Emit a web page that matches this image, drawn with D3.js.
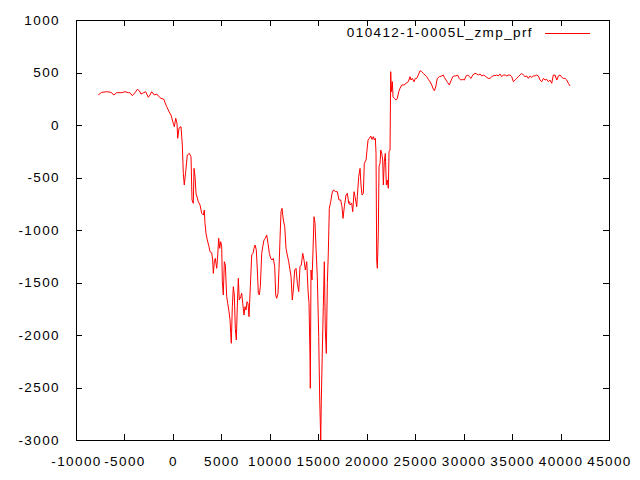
<!DOCTYPE html>
<html>
<head>
<meta charset="utf-8">
<script src="https://cdn.jsdelivr.net/npm/d3@7"></script>
<style>
  body { margin: 0; background: #fff; }
  svg text { font-family: "Liberation Sans", Arial, sans-serif; font-size: 13.5px; letter-spacing: 1.4px; fill: #000; }
</style>
</head>
<body>
<div id="chart"></div>
<script>
// series name
var seriesName = "010412-1-0005L_zmp_prf"

// position along x
var xVals = [-7700,-7350,-6830,-6390,-6080,-5800,-5280,-4940,-4600,-4430,-4190,-3910,-3670,-3470,-3290,-3010,-2810,-2540,-2360,-2190,-1920,-1670,-1510,-1230,-920,-815,-640,-400,-200,40,145,290,420,495,630,835,970,1075,1175,1320,1485,1690,1870,1970,2105,2180,2280,2385,2620,2800,2970,3140,3240,3310,3415,3550,3725,3830,4005,4105,4170,4275,4375,4520,4625,4725,4830,4935,5035,5100,5200,5305,5410,5550,5655,5790,5895,5965,6025,6130,6235,6335,6440,6545,6645,6750,6850,7000,7100,7205,7340,7440,7545,7645,7750,7855,7990,8130,8265,8370,8475,8605,8710,8815,8915,9020,9165,9270,9400,9535,9680,9815,9950,10095,10225,10360,10505,10610,10710,10845,10950,11055,11155,11260,11395,11540,11670,11805,11950,12190,12320,12425,12570,12705,12840,12985,13115,13250,13395,13530,13665,13810,13940,14045,14150,14180,14250,14355,14460,14560,14665,14770,14900,15045,15150,15255,15315,15420,15520,15625,15725,15830,15935,16035,16140,16285,16420,16555,16800,16965,17140,17315,17450,17555,17690,17865,18000,18140,18245,18275,18450,18555,18690,18795,18970,19030,19175,19310,19410,19515,19650,19750,19930,20030,20135,20270,20415,20545,20680,20785,20890,20960,21030,21095,21195,21270,21375,21445,21550,21650,21715,21815,21920,22025,22125,22230,22300,22405,22475,22540,22640,22715,22850,23025,23160,23300,23435,23610,23850,24055,24295,24470,24570,24705,24880,25015,25160,25325,25500,25675,25840,26015,26190,26355,26530,26710,26875,26975,27120,27285,27490,27740,27905,28010,28185,28360,28525,28700,28875,29040,29205,29380,29545,29700,29905,30075,30250,30425,30590,30765,30940,31175,31350,31520,31695,31870,32045,32210,32385,32550,32725,32900,33065,33240,33415,33580,33755,33930,34095,34275,34450,34615,34790,34965,35130,35305,35480,35645,35820,35995,36160,36335,36510,36675,36855,37030,37195,37370,37545,37710,37885,38060,38225,38400,38575,38740,38915,39090,39255,39435,39610,39775,39950,40125,40290,40465,40640,40805,40980]

var yVals = [286,311,317,311,286,308,308,317,308,308,279,308,340,327,295,308,317,264,286,317,286,295,276,254,244,212,175,127,95,16,-16,64,19,-127,-29,-16,-190,-460,-571,-444,-286,-270,-302,-714,-746,-413,-492,-651,-730,-762,-841,-857,-810,-937,-1032,-1095,-1159,-1207,-1217,-1286,-1413,-1302,-1270,-1365,-1238,-1079,-1175,-1111,-1159,-1492,-1619,-1302,-1333,-1635,-1698,-1778,-1857,-1984,-2079,-1730,-1540,-1619,-1937,-2048,-1730,-1460,-1667,-1635,-1603,-1698,-1810,-1730,-1762,-1683,-1698,-1826,-1540,-1238,-1222,-1174,-1143,-1190,-1381,-1603,-1619,-1540,-1222,-1159,-1095,-1079,-1048,-1127,-1222,-1270,-1286,-1270,-1349,-1619,-1651,-1603,-1365,-1079,-826,-794,-905,-968,-1174,-1238,-1302,-1444,-1667,-1571,-1381,-1365,-1508,-1587,-1349,-1333,-1222,-1286,-1381,-1302,-1571,-1698,-2238,-2508,-1381,-1476,-1190,-873,-937,-1174,-1444,-2016,-2619,-3000,-2619,-2143,-1730,-1302,-1952,-2175,-1508,-1222,-794,-730,-651,-619,-635,-635,-714,-714,-778,-889,-778,-667,-651,-746,-730,-762,-746,-826,-635,-683,-778,-683,-492,-413,-571,-667,-651,-365,-333,-238,-143,-127,-105,-137,-111,-143,-127,-270,-1286,-1365,-1032,-397,-365,-238,-270,-333,-571,-349,-270,-571,-524,-603,-254,-238,508,317,413,270,254,238,254,317,349,381,381,397,413,460,428,444,412,444,444,476,517,508,492,476,460,435,412,381,340,327,362,444,460,467,476,454,428,403,381,422,460,467,467,476,444,428,435,428,467,476,460,444,476,492,486,476,486,467,476,467,454,444,444,460,470,470,476,467,486,460,476,476,467,476,476,460,412,428,444,460,476,492,476,460,467,444,467,454,467,467,476,467,428,412,444,428,435,412,428,397,476,476,428,467,476,454,444,444,428,397,371]

var xTicks = [-10000,-5000,0,5000,10000,15000,20000,25000,30000,35000,40000,45000]
var yTicks = [-3000,-2500,-2000,-1500,-1000,-500,0,500,1000]

var width = 640, height = 480
var plot = {left: 76, right: 609, top: 20, bottom: 440}
var tickLen = 6

// plain hyphen for negatives, like the original
var fmt = function(d) { return String(d) }

var svg = d3.select("#chart").append("svg")
  .attr("width", width)
  .attr("height", height)

var x = d3.scaleLinear().domain([-10000, 45000]).range([plot.left, plot.right])
var y = d3.scaleLinear().domain([-3000, 1000]).range([plot.bottom, plot.top])

// bottom axis with labels, ticks pointing inward
var gx = svg.append("g")
  .attr("transform", "translate(0," + plot.bottom + ")")
  .call(d3.axisBottom(x).tickValues(xTicks).tickFormat(fmt)
    .tickSizeInner(-tickLen).tickSizeOuter(0).tickPadding(16))
gx.select(".domain").remove()

var gy = svg.append("g")
  .attr("transform", "translate(" + plot.left + ",0)")
  .call(d3.axisLeft(y).tickValues(yTicks).tickFormat(fmt)
    .tickSizeInner(-tickLen).tickSizeOuter(0).tickPadding(16))
gy.select(".domain").remove()

// mirrored ticks on top and right, no labels
var gt = svg.append("g")
  .attr("transform", "translate(0," + plot.top + ")")
  .call(d3.axisTop(x).tickValues(xTicks).tickFormat("").tickSizeInner(-tickLen).tickSizeOuter(0))
gt.select(".domain").remove()

var gr = svg.append("g")
  .attr("transform", "translate(" + plot.right + ",0)")
  .call(d3.axisRight(y).tickValues(yTicks).tickFormat("").tickSizeInner(-tickLen).tickSizeOuter(0))
gr.select(".domain").remove()

svg.selectAll(".tick line").attr("stroke", "#000").attr("shape-rendering", "crispEdges")
svg.selectAll(".tick text")
  .style("font-family", "'Liberation Sans', Arial, sans-serif")
  .style("font-size", "13.5px")
  .attr("fill", "#000")

// frame
svg.append("rect")
  .attr("x", plot.left + 0.5)
  .attr("y", plot.top + 0.5)
  .attr("width", plot.right - plot.left)
  .attr("height", plot.bottom - plot.top)
  .attr("fill", "none")
  .attr("stroke", "#000")
  .attr("shape-rendering", "crispEdges")

// the series
var data = xVals.map(function(d, i) { return {x: d, y: yVals[i]} })

var line = d3.line()
  .x(function(d) { return x(d.x) })
  .y(function(d) { return y(d.y) })

svg.append("path")
  .datum(data)
  .attr("fill", "none")
  .attr("stroke", "#ff0000")
  .attr("stroke-width", 1)
  .attr("d", line)

// key
svg.append("text")
  .attr("x", 533)
  .attr("y", 37)
  .attr("text-anchor", "end")
  .text(seriesName)

svg.append("line")
  .attr("x1", 545).attr("x2", 590)
  .attr("y1", 33.5).attr("y2", 33.5)
  .attr("stroke", "#ff0000")
  .attr("stroke-width", 1)
</script>
</body>
</html>
